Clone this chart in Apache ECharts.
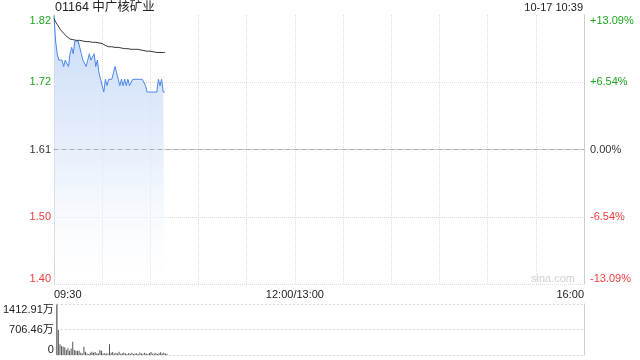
<!DOCTYPE html>
<html><head><meta charset="utf-8">
<script src="https://cdn.jsdelivr.net/npm/echarts@6/dist/echarts.min.js"></script>
<style>html,body{margin:0;padding:0;background:#fff}#c{width:640px;height:360px}</style>
</head><body><div id="c"></div>
<script>
// ---- data ----
const title = '01164 中广核矿业';
const stamp = '10-17 10:39';
const prevClose = 1.61;
const rangePct = 13.09;
const leftLabels = ['1.40', '1.50', '1.61', '1.72', '1.82'];
const rightLabels = ['-13.09%', '-6.54%', '0.00%', '+6.54%', '+13.09%'];
const volLabels = ['0', '706.46万', '1412.91万'];
const volMax = 1412.91;
const timeTicks = [0, 150, 330];
const timeLabels = ['09:30', '12:00/13:00', '16:00'];
const totalMinutes = 330;
// per-minute prices from 09:30 to 10:39
const prices = [1.82,1.78,1.76,1.75,1.75,1.75,1.74,1.75,1.75,1.74,
  1.76,1.77,1.76,1.78,1.78,1.78,1.77,1.76,1.75,1.75,
  1.74,1.75,1.76,1.75,1.75,1.76,1.74,1.75,1.73,1.72,
  1.72,1.70,1.72,1.71,1.72,1.72,1.72,1.73,1.74,1.73,
  1.72,1.71,1.72,1.71,1.72,1.71,1.72,1.71,1.71,1.72,
  1.72,1.72,1.72,1.72,1.72,1.72,1.72,1.71,1.70,1.70,
  1.70,1.70,1.70,1.70,1.70,1.72,1.71,1.72,1.70,1.70];
const avgPrices = [1.815,1.810,1.806,1.802,1.798,1.795,1.792,1.790,1.787,1.785,
  1.783,1.782,1.782,1.781,1.781,1.781,1.781,1.780,1.780,1.780,
  1.779,1.779,1.779,1.778,1.778,1.778,1.778,1.777,1.777,1.776,
  1.776,1.774,1.773,1.772,1.771,1.771,1.771,1.770,1.770,1.770,
  1.770,1.769,1.769,1.769,1.768,1.768,1.768,1.767,1.767,1.767,
  1.767,1.767,1.767,1.767,1.766,1.766,1.765,1.765,1.764,1.764,
  1.764,1.763,1.763,1.763,1.762,1.762,1.762,1.762,1.762,1.762];
// volume in 万
const volumes = [1400,690,300,250,230,215,140,185,120,180,
  365,140,120,115,120,65,45,230,90,45,
  30,65,90,65,80,45,50,140,120,45,
  50,45,40,300,60,85,45,60,40,90,
  35,50,70,40,30,55,35,60,30,40,
  50,30,70,45,35,60,40,30,55,80,
  35,40,55,30,50,75,40,60,45,35];

// ---- chart ----
const pct = p => (p / prevClose - 1) * 100;
const green = '#1ea51e', red = '#f03c3c', black = '#333';
const labelColor = i => i > 2 ? green : (i < 2 ? red : black);
const font = 'Liberation Sans, Arial, Noto Sans CJK SC, sans-serif';
const G = {left: 54, right: 56};
const chart = echarts.init(document.getElementById('c'), null, {renderer: 'canvas'});
chart.setOption({
  animation: false,
  textStyle: {fontFamily: font},
  grid: [
    {left: G.left, right: G.right, top: 15, height: 269},
    {left: G.left, right: G.right, top: 304, height: 51}
  ],
  graphic: [
    {type: 'text', left: 55, top: 1, style: {text: title, font: '12.5px ' + font, fill: '#222'}},
    {type: 'text', right: 57, top: 2, style: {text: stamp, font: '11px ' + font, fill: '#222'}},
    {type: 'text', left: 531, top: 273, style: {text: 'sina.com', font: '11px ' + font, fill: '#d0d0d0'}}
  ],
  xAxis: [
    {type: 'value', gridIndex: 0, min: 0, max: totalMinutes, interval: 30,
      axisLine: {show: true, lineStyle: {color: '#ccc'}}, axisTick: {show: false},
      axisLabel: {margin: 5, fontSize: 11, color: '#222',
        alignMinLabel: 'left', alignMaxLabel: 'right',
        formatter: v => { const k = timeTicks.indexOf(v); return k >= 0 ? timeLabels[k] : ''; }},
      splitLine: {show: true, lineStyle: {color: '#ddd', type: 'dotted'}}},
    {type: 'value', gridIndex: 1, min: 0, max: totalMinutes, interval: 30,
      axisLine: {show: false}, axisTick: {show: false}, axisLabel: {show: false},
      splitLine: {show: false}}
  ],
  yAxis: [
    {type: 'value', gridIndex: 0, min: -rangePct, max: rangePct, interval: rangePct / 2,
      axisLine: {show: true, lineStyle: {color: '#ccc'}}, axisTick: {show: false},
      axisLabel: {margin: 3, fontSize: 11, formatter: (v, i) => leftLabels[i],
        color: (v, i) => labelColor(i),
        verticalAlignMinLabel: 'bottom', verticalAlignMaxLabel: 'top'},
      splitLine: {show: true, showMaxLine: false, lineStyle: {color: '#ddd', type: 'dotted'}}},
    {type: 'value', gridIndex: 0, position: 'right', min: -rangePct, max: rangePct, interval: rangePct / 2,
      axisLine: {show: true, lineStyle: {color: '#ccc'}}, axisTick: {show: false},
      axisLabel: {margin: 6, fontSize: 11, formatter: (v, i) => rightLabels[i],
        color: (v, i) => labelColor(i),
        verticalAlignMinLabel: 'bottom', verticalAlignMaxLabel: 'top'},
      splitLine: {show: false}},
    {type: 'value', gridIndex: 1, min: 0, max: volMax, interval: volMax / 2,
      axisLine: {show: true, lineStyle: {color: '#ccc'}}, axisTick: {show: false},
      axisLabel: {margin: 3, fontSize: 11, color: '#222', formatter: (v, i) => volLabels[i],
        verticalAlignMinLabel: 'bottom', verticalAlignMaxLabel: 'top'},
      splitLine: {show: true, lineStyle: {color: '#d4d4d4', type: [2, 2]}}},
    {type: 'value', gridIndex: 1, position: 'right', min: 0, max: volMax, interval: volMax / 2,
      axisLine: {show: true, lineStyle: {color: '#ccc'}}, axisTick: {show: false},
      axisLabel: {show: false}, splitLine: {show: false}}
  ],
  series: [
    {type: 'line', xAxisIndex: 0, yAxisIndex: 0, symbol: 'none', z: 3,
      data: prices.map((p, i) => [i, pct(p)]),
      lineStyle: {color: '#4a86ec', width: 1},
      areaStyle: {origin: 'start', opacity: 1, color: new echarts.graphic.LinearGradient(0, 0, 0, 1, [
        {offset: 0, color: 'rgba(196,216,248,0.95)'},
        {offset: 0.5, color: 'rgba(220,232,250,0.7)'},
        {offset: 1, color: 'rgba(255,255,255,0.2)'}])},
      markLine: {silent: true, symbol: 'none', label: {show: false},
        lineStyle: {color: '#aaa', type: [4, 4], width: 1}, data: [{yAxis: 0}]}},
    {type: 'line', xAxisIndex: 0, yAxisIndex: 0, symbol: 'none', z: 4,
      data: avgPrices.map((p, i) => [i, pct(p)]),
      lineStyle: {color: '#333', width: 1}},
    {type: 'bar', xAxisIndex: 1, yAxisIndex: 2, barWidth: 1,
      data: volumes.map((v, i) => [i, v]),
      itemStyle: {color: '#555'}}
  ]
});
</script></body></html>
